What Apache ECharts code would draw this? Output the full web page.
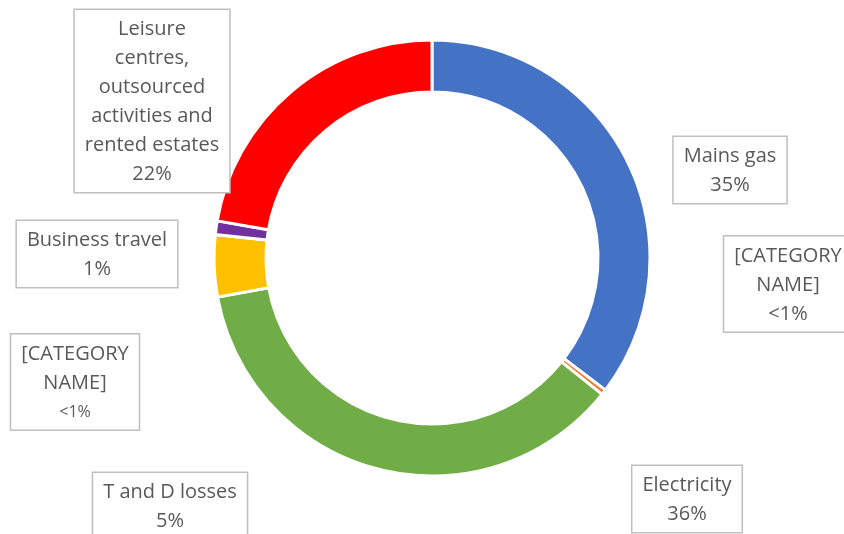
<!DOCTYPE html>
<html>
<head>
    <meta charset="UTF-8">
    <title>Emissions by source</title>
    <script type="text/javascript" src="https://cdn.jsdelivr.net/npm/echarts@6/dist/echarts.min.js"></script>
    <style>
        body { margin: 0; background: #fff; }
        #chart { width: 844px; height: 534px; }
    </style>
</head>
<body>
<div id="chart"></div>
<script>
    // data, clockwise from 12 o'clock
    var categories = ["Mains gas", "[CATEGORY\nNAME]", "Electricity", "T and D losses",
        "[CATEGORY\nNAME]", "Business travel",
        "Leisure\ncentres,\noutsourced\nactivities and\nrented estates"];
    var shares = [35.4, 0.4, 36.4, 4.6, 0, 1.0, 22.3];
    var colors = ["#4472C4", "#ED7D31", "#70AD47", "#FFC000", "#A5A5A5", "#7030A0", "#FF0000"];

    // where the label boxes sit (centre of each box)
    var labelPos = [[730, 170], [788, 284], [687, 499], [170, 506], [75, 382], [97, 254], [152, 101]];

    var pieData = [];
    for (var i = 0; i < categories.length; i++) {
        pieData.push({name: categories[i], value: shares[i], itemStyle: {color: colors[i]}});
    }

    function pctText(p) {
        if (p < 1) return "<1%";
        return Math.round(p) + "%";
    }

    var chart = echarts.init(document.getElementById("chart"));
    chart.setOption({
        animation: false,
        series: [{
            type: "pie",
            center: [432, 258],
            radius: [166, 218],
            startAngle: 90,
            clockwise: true,
            avoidLabelOverlap: false,
            stillShowZeroSum: true,
            itemStyle: {borderColor: "#fff", borderWidth: 3},
            label: {
                show: true,
                position: "outside",
                formatter: function (p) {
                    if (p.dataIndex == 4) return p.name + "\n{small|" + pctText(p.percent) + "}";
                    return p.name + "\n" + pctText(p.percent);
                },
                color: "#595959",
                fontFamily: "Open Sans",
                fontSize: 20,
                lineHeight: 29,
                align: "center",
                backgroundColor: "#fff",
                borderColor: "#BFBFBF",
                borderWidth: 1.5,
                padding: [5, 10, 3, 10],
                rich: {
                    small: {fontSize: 16, lineHeight: 29, color: "#595959", fontFamily: "Open Sans"}
                }
            },
            labelLine: {show: false},
            labelLayout: function (params) {
                var pos = labelPos[params.dataIndex];
                return {x: pos[0], y: pos[1], align: "center", verticalAlign: "middle"};
            },
            data: pieData
        }]
    });
</script>
</body>
</html>
